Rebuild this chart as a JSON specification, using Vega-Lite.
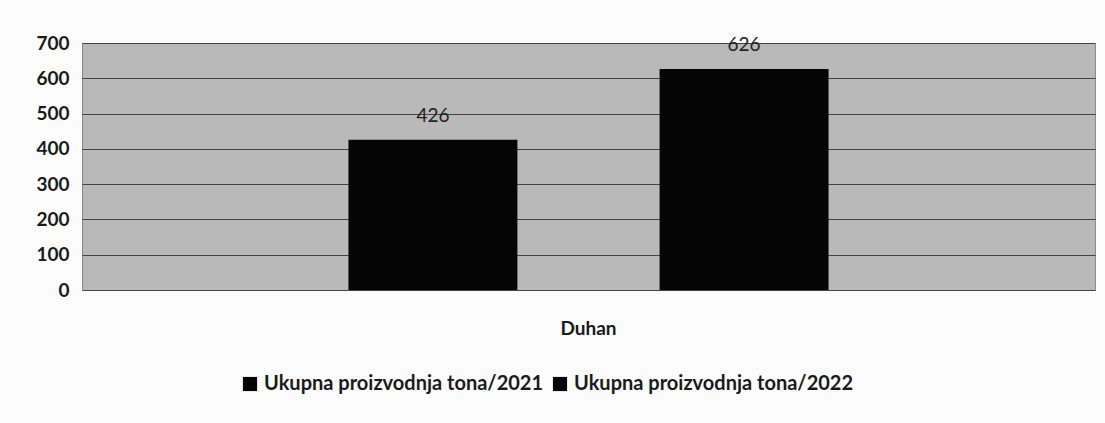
{
  "$schema": "https://vega.github.io/schema/vega-lite/v6.json",
  "autosize": "none",
  "width": 1013,
  "height": 247,
  "padding": {"left": 82, "top": 43, "right": 10, "bottom": 133},
  "background": "#fbfbfb",
  "config": {
    "font": "Lato",
    "view": {"fill": "#b9b9b9", "stroke": "#8a8a8a", "strokeWidth": 1}
  },
  "data": {
    "values": [
      {"kategorija": "Duhan", "serija": "Ukupna proizvodnja tona/2021", "tona": 426},
      {"kategorija": "Duhan", "serija": "Ukupna proizvodnja tona/2022", "tona": 626}
    ]
  },
  "encoding": {
    "x": {
      "field": "kategorija",
      "type": "nominal",
      "scale": {"paddingInner": 0, "paddingOuter": 0.555},
      "axis": {"title": null, "labelAngle": 0, "domain": false, "ticks": false, "labelPadding": 29, "labelFontSize": 19, "labelFontWeight": "bold", "labelColor": "#1a1a1a"}
    },
    "xOffset": {
      "field": "serija",
      "type": "nominal",
      "scale": {"paddingInner": 0.457, "paddingOuter": 0}
    },
    "y": {
      "field": "tona",
      "type": "quantitative",
      "scale": {"domain": [0, 700]},
      "axis": {"title": null, "values": [0, 100, 200, 300, 400, 500, 600, 700], "domain": false, "ticks": false, "labelPadding": 13, "labelFontSize": 19, "labelFontWeight": "bold", "labelColor": "#1a1a1a", "grid": true, "gridColor": "#444444", "gridWidth": 1.2}
    }
  },
  "layer": [
    {
      "mark": {"type": "bar", "stroke": null},
      "encoding": {
        "color": {
          "field": "serija",
          "type": "nominal",
          "scale": {"range": ["#050505", "#050505"]},
          "legend": {
            "title": null,
            "orient": "none",
            "direction": "horizontal",
            "legendX": 158,
            "legendY": 331,
            "symbolType": "square",
            "symbolSize": 200,
            "labelFontSize": 20,
            "labelFontWeight": "bold",
            "labelColor": "#1a1a1a",
            "labelLimit": 0,
            "columnPadding": 6,
            "symbolOffset": 0
          }
        }
      }
    },
    {
      "mark": {"type": "text", "dy": -24, "fontSize": 19, "color": "#222222"},
      "encoding": {"text": {"field": "tona", "type": "quantitative"}}
    }
  ]
}
